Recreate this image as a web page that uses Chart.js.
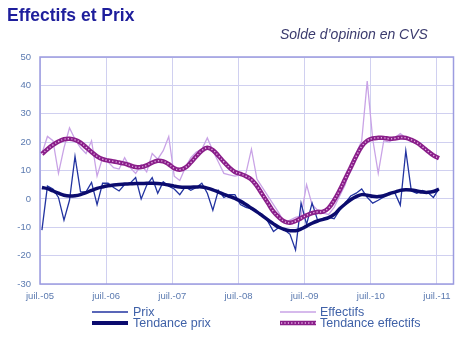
<!DOCTYPE html>
<html>
<head>
<meta charset="utf-8">
<script src="https://cdn.jsdelivr.net/npm/chart.js@4.4.0/dist/chart.umd.min.js"></script>
<style>
html,body{margin:0;padding:0;background:#fff;}
#wrap{position:relative;width:475px;height:339px;overflow:hidden;font-family:"Liberation Sans",Arial,sans-serif;}
#c{position:absolute;left:0;top:0;}
#title{position:absolute;left:7px;top:5px;font-weight:bold;font-size:17.5px;color:#1e1e9c;white-space:nowrap;}
#sub{position:absolute;left:280px;top:26px;font-style:italic;font-size:14px;color:#3b3b6e;white-space:nowrap;}
.lt{position:absolute;font-size:12.5px;color:#4062a8;white-space:nowrap;line-height:14px;}
.ls{position:absolute;}
</style>
</head>
<body>
<div id="wrap">
  <canvas id="c" width="475" height="339"></canvas>
  <div id="title">Effectifs et Prix</div>
  <div id="sub">Solde d’opinion en CVS</div>
  <svg class="ls" style="left:92px;top:306px" width="36" height="12"><line x1="0" y1="6" x2="36" y2="6" stroke="#2233a0" stroke-width="1.5"/></svg>
  <div class="lt" style="left:133px;top:305px">Prix</div>
  <svg class="ls" style="left:92px;top:317px" width="36" height="12"><line x1="0" y1="6" x2="36" y2="6" stroke="#0b0b6e" stroke-width="4"/></svg>
  <div class="lt" style="left:133px;top:316px">Tendance prix</div>
  <svg class="ls" style="left:280px;top:306px" width="36" height="12"><line x1="0" y1="6" x2="36" y2="6" stroke="#c9a3e6" stroke-width="1.5"/></svg>
  <div class="lt" style="left:320px;top:305px">Effectifs</div>
  <svg class="ls" style="left:280px;top:317px" width="36" height="12"><line x1="0" y1="6" x2="36" y2="6" stroke="#8a1f8a" stroke-width="4.5"/><line x1="1" y1="6" x2="36" y2="6" stroke="#e6b3e6" stroke-width="1.4" stroke-dasharray="1.2 2.2"/></svg>
  <div class="lt" style="left:320px;top:316px">Tendance effectifs</div>
</div>
<script>
// Monthly data, July 2005 -> July 2011
const tickLabels = ['juil.-05','juil.-06','juil.-07','juil.-08','juil.-09','juil.-10','juil.-11'];
const yTicks = [-30, -20, -10, 0, 10, 20, 30, 40, 50];

const prix = [-11, 4.5, 3.5, 0.5, -7.5, -0.5, 15, 2.5, 2.5, 5.8,
  -2, 5.5, 5.5, 4, 2.8, 5, 5.5, 7.5, 0, 4.8,
  7.5, 2, 6, 4.5, 3.5, 1.5, 4.2, 3, 4, 5.5,
  2, -4, 3, 0.5, 1.5, 1.5, -2, -3, -3.5, -4.5,
  -5.5, -8, -11.5, -10, -11, -12.5, -18, -1.5, -9, -1.5,
  -7.5, -7.5, -6.5, -7, -4, -1.5, 1, 2, 3.5, 0.5,
  -1.5, -0.5, 0.7, 2, 2.2, -2.2, 17, 2.8, 2, 3,
  2.2, 0.5, 3.5];

const effectifs = [16, 22, 20.5, 9, 18, 25, 21, 18, 16, 20.5,
  8, 14.5, 13, 11, 10.5, 14.5, 11, 9, 12, 9.5,
  16, 14, 17, 22, 8, 6.5, 11, 14.5, 16.5, 17.5,
  21.5, 17, 13, 9, 8.5, 8, 8.5, 9, 17.5, 7,
  4, 1, -2, -5, -8.5, -7.5, -6.5, -6, 5, -2,
  -4, -5, -5.5, -3, 1, 5, 11, 16, 20.5, 41.5,
  21, 9, 20.5, 20, 21.5, 23, 21.5, 20.5, 19.5, 18.5,
  17, 15, 14];

const tendancePrix = [4, 3.6, 2.8, 2, 1.3, 1, 1.1, 1.5, 2.2, 3,
  3.7, 4.2, 4.6, 4.9, 5.1, 5.2, 5.3, 5.4, 5.4, 5.5,
  5.5, 5.4, 5.2, 4.9, 4.5, 4.2, 4.1, 4.1, 4.2, 4.2,
  3.8, 3.2, 2.4, 1.6, 0.9, 0.2, -0.8, -2, -3.3, -4.6,
  -6, -7.4, -8.8, -10, -10.8, -11.2, -11.2, -10.6, -9.6, -8.6,
  -7.8, -7.2, -6.6, -5.5, -3.5, -1.8, -0.3, 0.8, 1.5, 1.3,
  0.9, 0.8, 1.1, 1.8, 2.4, 3, 3.2, 3.1, 2.8, 2.4,
  2.3, 2.6, 3.4];

const tendanceEffectifs = [15.8, 17.5, 19, 20.2, 21, 21.2, 20.8, 19.8, 18.2, 16.5,
  15, 14, 13.5, 13.2, 12.8, 12.4, 11.8, 11.2, 11.2, 11.8,
  12.8, 13.4, 13.2, 12.2, 10.8, 10.3, 11, 12.8, 15, 17,
  18, 17.2, 15.2, 13, 11, 9.5, 8.8, 8, 6.8, 4.5,
  1.5, -1.5, -4.5, -6.5, -8, -8.4, -7.8, -6.8, -5.8, -5,
  -4.6, -4.5, -3.2, -0.5, 3, 7, 11, 15, 18.5, 20.5,
  21.3, 21.5, 21.5, 21.2, 21.3, 21.6, 21.5, 20.8, 19.8, 18.4,
  16.8, 15.3, 14.3];

// each monthly value is plotted slightly after the month gridline
const MONTH_OFFSET = 0.35;
const toXY = arr => arr.map((v, i) => ({x: i + MONTH_OFFSET, y: v}));

const borderPlugin = {
  id: 'plotBorder',
  beforeDatasetsDraw(chart) {
    const a = chart.chartArea, ctx = chart.ctx;
    ctx.save();
    ctx.strokeStyle = '#9c9ce0';
    ctx.lineWidth = 1.5;
    ctx.strokeRect(a.left, a.top, a.right - a.left, a.bottom - a.top);
    ctx.restore();
  }
};

new Chart(document.getElementById('c'), {
  type: 'line',
  data: {
    datasets: [
      {label: 'Effectifs', data: toXY(effectifs), borderColor: '#c9a3e6', borderWidth: 1.3, pointRadius: 0, tension: 0, order: 4},
      {label: 'Tendance effectifs', data: toXY(tendanceEffectifs), borderColor: '#8a1f8a', borderWidth: 4.5, pointRadius: 0, tension: 0.4, order: 1},
      {label: 'Tendance effectifs (motif)', data: toXY(tendanceEffectifs), borderColor: '#e6b3e6', borderWidth: 1.4, borderDash: [1.2, 2.2], pointRadius: 0, tension: 0.4, order: 0},
      {label: 'Prix', data: toXY(prix), borderColor: '#2233a0', borderWidth: 1.3, pointRadius: 0, tension: 0, order: 3},
      {label: 'Tendance prix', data: toXY(tendancePrix), borderColor: '#0b0b6e', borderWidth: 3.5, pointRadius: 0, tension: 0.4, order: 2}
    ]
  },
  options: {
    responsive: false,
    animation: false,
    events: [],
    layout: {padding: {top: 57, right: 21.5, bottom: 35, left: 0}},
    plugins: {legend: {display: false}, tooltip: {enabled: false}},
    scales: {
      x: {
        type: 'linear', min: 0, max: 75,
        afterBuildTicks: s => { s.ticks = tickLabels.map((l, k) => ({value: 12 * k})); },
        afterFit: s => { s.height = 20; },
        ticks: {
          callback: v => tickLabels[Math.round(v / 12)],
          color: '#5b7ab0', font: {family: 'Liberation Sans', size: 9.5}, padding: 7, maxRotation: 0, autoSkip: false
        },
        grid: {color: '#d0d0f0', lineWidth: 1, drawTicks: false},
        border: {display: false}
      },
      y: {
        min: -30, max: 50,
        afterBuildTicks: s => { s.ticks = yTicks.map(v => ({value: v})); },
        afterFit: s => { s.width = 40; },
        ticks: {color: '#5b7ab0', font: {family: 'Liberation Sans', size: 9.5}, padding: 9},
        grid: {color: '#d0d0f0', lineWidth: 1, drawTicks: false},
        border: {display: false}
      }
    }
  },
  plugins: [borderPlugin]
});
</script>
</body>
</html>
